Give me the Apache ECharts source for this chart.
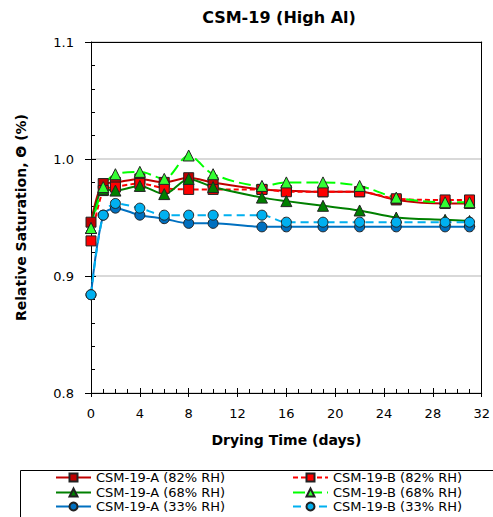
<!DOCTYPE html>
<html>
<head>
<meta charset="utf-8">
<title>CSM-19 (High Al)</title>
<script src="https://cdn.jsdelivr.net/npm/echarts@6/dist/echarts.min.js"></script>
<style>
  html, body { margin: 0; padding: 0; background: #fff; }
  #chart { width: 493px; height: 517px; }
</style>
</head>
<body>
<div id="chart"></div>
<script>
// Drying days at which each sample was weighed
const days = [0, 1, 2, 4, 6, 8, 10, 14, 16, 19, 22, 25, 29, 31];

// Relative saturation per sample and storage humidity
const a82 = [0.946, 0.979, 0.980, 0.983, 0.980, 0.984, 0.980, 0.974, 0.973, 0.972, 0.972, 0.965, 0.962, 0.962];
const b82 = [0.930, 0.973, 0.976, 0.979, 0.975, 0.974, 0.974, 0.974, 0.972, 0.972, 0.972, 0.966, 0.965, 0.965];
const a68 = [0.941, 0.974, 0.973, 0.977, 0.970, 0.983, 0.976, 0.967, 0.964, 0.960, 0.956, 0.950, 0.948, 0.947];
const b68 = [0.941, 0.976, 0.987, 0.989, 0.983, 1.003, 0.987, 0.977, 0.980, 0.980, 0.977, 0.967, 0.963, 0.963];
const a33 = [0.884, 0.952, 0.958, 0.952, 0.949, 0.945, 0.945, 0.942, 0.942, 0.942, 0.942, 0.942, 0.942, 0.942];
const b33 = [0.884, 0.952, 0.962, 0.958, 0.952, 0.952, 0.952, 0.952, 0.946, 0.946, 0.946, 0.946, 0.946, 0.946];

const seriesNames = [
  'CSM-19-A (82% RH)', 'CSM-19-B (82% RH)',
  'CSM-19-A (68% RH)', 'CSM-19-B (68% RH)',
  'CSM-19-A (33% RH)', 'CSM-19-B (33% RH)'
];

const FONT = 'DejaVu Sans';

function pairs(values) {
  return days.map((d, i) => [d, values[i]]);
}

function lineSeries(name, values, opts) {
  return {
    name: name,
    type: 'line',
    xAxisIndex: 0,
    yAxisIndex: 0,
    data: pairs(values),
    smooth: 0.3,
    symbol: opts.symbol,
    symbolSize: opts.size,
    showSymbol: true,
    lineStyle: { color: opts.line, width: 2, type: opts.dash || 'solid' },
    itemStyle: { color: opts.fill, borderColor: '#222', borderWidth: 1 },
    emphasis: { disabled: true },
    animation: false
  };
}

// one legend entry per box so the two columns line up exactly
function legendEntry(name, left, top) {
  return {
    orient: 'horizontal', left: left, top: top,
    itemWidth: 35, itemHeight: 10, itemGap: 0,
    padding: 0,
    data: [name],
    textStyle: { fontFamily: FONT, fontSize: 13, color: '#000' },
    selectedMode: false
  };
}

function axisText() {
  return { fontFamily: FONT, fontSize: 13, color: '#000' };
}
function stroke(color) {
  return { color: color || '#000', width: 1 };
}

// plain axis used only for its line (frame edge) or its outward ticks
function helperAxis(base, position, withLine, outerTick) {
  return Object.assign({}, base, {
    position: position,
    offset: 0,
    axisLine: { show: withLine, onZero: false, lineStyle: stroke() },
    axisTick: { show: !!outerTick, inside: false, length: outerTick || 0, lineStyle: stroke() },
    minorTick: { show: false },
    axisLabel: { show: false },
    splitLine: { show: false }
  });
}

const xRange = { type: 'value', min: 0, max: 32, interval: 4 };
const yRange = { type: 'value', min: 0.8, max: 1.1, interval: 0.1 };

const chart = echarts.init(document.getElementById('chart'), null, { renderer: 'svg' });

chart.setOption({
  backgroundColor: '#fff',
  animation: false,
  title: {
    text: 'CSM-19 (High Al)',
    left: 274,
    top: 4,
    textAlign: 'center',
    textStyle: { fontFamily: FONT, fontSize: 16, fontWeight: 'bold', color: '#000' }
  },
  grid: { left: 91, top: 42, width: 391, height: 351 },
  xAxis: [
    Object.assign({}, xRange, {
      position: 'bottom',
      name: 'Drying Time (days)',
      nameLocation: 'middle',
      nameGap: 40,
      nameTextStyle: { fontFamily: FONT, fontSize: 14, fontWeight: 'bold', color: '#000' },
      axisLine: { show: true, onZero: false, lineStyle: stroke() },
      axisTick: { show: true, inside: true, length: 5, lineStyle: stroke() },
      minorTick: { show: true, splitNumber: 4, length: 4, lineStyle: stroke() },
      axisLabel: Object.assign({ margin: 14 }, axisText()),
      splitLine: { show: false }
    }),
    helperAxis(xRange, 'bottom', false, 4),
    helperAxis(xRange, 'top', true, 0)
  ],
  yAxis: [
    Object.assign({}, yRange, {
      position: 'left',
      name: 'Relative Saturation, Θ (%)',
      nameLocation: 'middle',
      nameRotate: 90,
      nameGap: 63,
      nameTextStyle: { fontFamily: FONT, fontSize: 14, fontWeight: 'bold', color: '#000' },
      axisLine: { show: true, onZero: false, lineStyle: stroke() },
      axisTick: { show: true, inside: true, length: 5, lineStyle: stroke() },
      minorTick: { show: true, splitNumber: 5, length: 4, lineStyle: stroke() },
      axisLabel: Object.assign({ margin: 17, formatter: v => v.toFixed(1) }, axisText()),
      splitLine: { show: true, lineStyle: { color: '#d9d9d9', width: 2 } }
    }),
    helperAxis(yRange, 'left', false, 6),
    helperAxis(yRange, 'right', true, 0)
  ],
  legend: [
    legendEntry(seriesNames[0], 55, 471),
    legendEntry(seriesNames[2], 55, 486),
    legendEntry(seriesNames[4], 55, 500),
    legendEntry(seriesNames[1], 292, 471),
    legendEntry(seriesNames[3], 292, 486),
    legendEntry(seriesNames[5], 292, 500)
  ],
  graphic: [
    {
      type: 'rect',
      left: 18, top: 468,
      shape: { x: 0, y: 0, width: 500, height: 47 },
      style: { fill: 'none', stroke: '#000', lineWidth: 1 },
      silent: true,
      z: -1
    }
  ],
  series: [
    lineSeries(seriesNames[0], a82, { symbol: 'rect', size: 10, line: '#c00000', fill: '#c00000' }),
    lineSeries(seriesNames[1], b82, { symbol: 'rect', size: 10, line: '#ff0000', fill: '#ff0000', dash: [5, 3] }),
    lineSeries(seriesNames[2], a68, { symbol: 'triangle', size: 11, line: '#008000', fill: '#008000' }),
    lineSeries(seriesNames[3], b68, { symbol: 'triangle', size: 11, line: '#00ff00', fill: '#33ff33', dash: [12, 5] }),
    lineSeries(seriesNames[4], a33, { symbol: 'circle', size: 10, line: '#0070c0', fill: '#0070c0' }),
    lineSeries(seriesNames[5], b33, { symbol: 'circle', size: 10, line: '#00b0f0', fill: '#00b0f0', dash: [8, 5] })
  ]
});
</script>
</body>
</html>
